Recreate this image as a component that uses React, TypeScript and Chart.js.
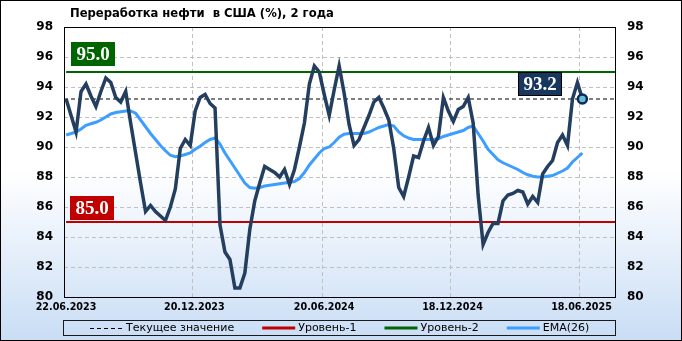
import React, { useEffect, useRef } from "react";
import { Chart, registerables } from "chart.js";

Chart.register(...registerables);

const TITLE = "Переработка нефти  в США (%), 2 года";

// x axis: days since 22.06.2023
const X_TICK_DAYS = [0, 181, 364, 545, 727];
const X_TICK_LABELS = ["22.06.2023", "20.12.2023", "20.06.2024", "18.12.2024", "18.06.2025"];
const X_AXIS_MAX_DAYS = 777;
const FIRST_POINT_DAY = 3;
const WEEK_DAYS = 7;

const Y_MIN = 80;
const Y_MAX = 98;
const Y_STEP = 2;

const REFINERY_UTIL = [
  93.2, 92.1, 91.0, 93.7, 94.2, 93.4, 92.7, 93.7, 94.6, 94.3,
  93.3, 93.0, 93.7, 91.6, 89.6, 87.6, 85.7, 86.1, 85.7, 85.4,
  85.1, 86.0, 87.2, 89.9, 90.5, 90.1, 92.4, 93.3, 93.5, 92.9,
  92.6, 84.8, 83.0, 82.5, 80.6, 80.6, 81.6, 84.5, 86.4, 87.6,
  88.7, 88.5, 88.3, 88.0, 88.5, 87.5, 88.5, 90.0, 91.6, 94.2,
  95.4, 95.0, 93.5, 92.1, 93.8, 95.4, 93.6, 91.5, 90.1, 90.5,
  91.3, 92.1, 93.0, 93.3, 92.6, 91.8, 89.9, 87.3, 86.7, 88.0,
  89.4, 89.3, 90.4, 91.3, 90.1, 90.7, 93.3, 92.4, 91.7, 92.5,
  92.7, 93.3, 91.6, 86.8, 83.5, 84.3, 84.9, 84.9, 86.4, 86.8,
  86.9, 87.1, 87.0, 86.2, 86.7, 86.3, 88.2, 88.7, 89.1, 90.3,
  90.8, 90.1, 93.2, 94.3, 93.2,
];

const EMA_26 = [
  90.8, 90.9, 91.0, 91.2, 91.45, 91.55, 91.65, 91.8, 92.0, 92.2,
  92.3, 92.35, 92.4, 92.4, 92.25, 91.8, 91.35, 90.9, 90.5, 90.1,
  89.75, 89.45, 89.35, 89.4, 89.5, 89.6, 89.85, 90.05, 90.3, 90.5,
  90.6, 90.2, 89.6, 89.1, 88.6, 88.1, 87.6, 87.3, 87.25, 87.3,
  87.4, 87.45, 87.5, 87.55, 87.6, 87.65, 87.7, 87.9, 88.3, 88.8,
  89.2, 89.6, 89.9, 90.0, 90.3, 90.65, 90.85, 90.9, 90.9, 90.9,
  90.9, 91.0, 91.15, 91.3, 91.4, 91.5, 91.4, 91.0, 90.75, 90.6,
  90.5, 90.5, 90.5, 90.5, 90.5, 90.55, 90.7, 90.8, 90.9, 91.0,
  91.1, 91.3, 91.4, 90.9, 90.4, 89.85, 89.5, 89.15, 88.95, 88.8,
  88.65, 88.5, 88.3, 88.15, 88.05, 88.0, 88.0, 88.05, 88.1, 88.25,
  88.4, 88.6, 89.0, 89.3, 89.6,
];

const LEVEL_1 = 85.0;
const LEVEL_2 = 95.0;
const CURRENT = REFINERY_UTIL[REFINERY_UTIL.length - 1];

const LEGEND_LABELS = ["Текущее значение", "Уровень-1", "Уровень-2", "EMA(26)"];

const C_MAIN = "#243e5f";
const C_EMA = "#3d9eff";
const C_L1 = "#c00000";
const C_L2 = "#006400";
const C_CUR = "#000000";
const C_TAG_CUR = "#17375e";
const FONT = '"DejaVu Sans", Verdana, sans-serif';
const SERIF = '"Liberation Serif", "Times New Roman", serif';

function drawTag(ctx: CanvasRenderingContext2D, text: string, cx: number, cy: number, fill: string, stroke?: string) {
  const w = 44;
  const h = 24;
  const x = Math.round(cx - w / 2);
  const y = Math.round(cy - h / 2);
  ctx.save();
  ctx.fillStyle = fill;
  ctx.fillRect(x, y, w, h);
  if (stroke) {
    ctx.strokeStyle = stroke;
    ctx.lineWidth = 1;
    ctx.strokeRect(x + 0.5, y + 0.5, w - 1, h - 1);
  }
  ctx.fillStyle = "#ffffff";
  ctx.font = `bold 19px ${SERIF}`;
  ctx.textAlign = "center";
  ctx.textBaseline = "middle";
  ctx.fillText(text, x + w / 2, y + h / 2 + 1);
  ctx.restore();
}

const bgPlugin = {
  id: "bgGradient",
  beforeDraw(chart: any) {
    const { ctx, width, height } = chart;
    const g = ctx.createLinearGradient(0, 0, 0, height);
    g.addColorStop(0, "#ffffff");
    g.addColorStop(0.5, "#ffffff");
    g.addColorStop(1, "#c9ddf5");
    ctx.save();
    ctx.fillStyle = g;
    ctx.fillRect(0, 0, width, height);
    ctx.restore();
  },
  beforeDatasetsDraw(chart: any) {
    const { ctx, chartArea } = chart;
    ctx.save();
    ctx.strokeStyle = "#000000";
    ctx.lineWidth = 1;
    ctx.strokeRect(
      chartArea.left + 0.5,
      chartArea.top + 0.5,
      chartArea.right - chartArea.left,
      chartArea.bottom - chartArea.top
    );
    ctx.restore();
  },
};

const overlayPlugin = {
  id: "overlay",
  afterDraw(chart: any) {
    const { ctx, chartArea, width, height } = chart;
    const xs = chart.scales.x;
    const ys = chart.scales.y;

    // title
    ctx.save();
    ctx.fillStyle = "#000";
    ctx.font = `bold 11.6px ${FONT}`;
    ctx.textAlign = "left";
    ctx.textBaseline = "middle";
    ctx.fillText(TITLE, 70, 14);
    ctx.restore();

    // level tags
    drawTag(ctx, LEVEL_2.toFixed(1), chartArea.left + 29, ys.getPixelForValue(LEVEL_2) - 18, C_L2);
    drawTag(ctx, LEVEL_1.toFixed(1), chartArea.left + 28, ys.getPixelForValue(LEVEL_1) - 14.5, C_L1);
    const lastX = xs.getPixelForValue(FIRST_POINT_DAY + WEEK_DAYS * (REFINERY_UTIL.length - 1));
    drawTag(ctx, CURRENT.toFixed(1), lastX - 42, ys.getPixelForValue(CURRENT) - 15, C_TAG_CUR, "#000000");

    // legend
    ctx.save();
    ctx.strokeStyle = "#1a1a1a";
    ctx.lineWidth = 1;
    ctx.strokeRect(63.5, 320.5, 552, 15);
    const ly = 328;
    ctx.font = `11px ${FONT}`;
    ctx.textBaseline = "middle";
    ctx.textAlign = "left";
    const items = [
      { label: LEGEND_LABELS[0], color: C_CUR, width: 1, dash: [4, 3] },
      { label: LEGEND_LABELS[1], color: C_L1, width: 3, dash: [] },
      { label: LEGEND_LABELS[2], color: C_L2, width: 3, dash: [] },
      { label: LEGEND_LABELS[3], color: C_EMA, width: 3, dash: [] },
    ];
    let x = 90;
    items.forEach((it) => {
      ctx.beginPath();
      ctx.strokeStyle = it.color;
      ctx.lineWidth = it.width;
      ctx.setLineDash(it.dash);
      const yy = it.width === 1 ? ly + 0.5 : ly;
      ctx.moveTo(x, yy);
      ctx.lineTo(x + 33, yy);
      ctx.stroke();
      ctx.setLineDash([]);
      ctx.fillStyle = "#000";
      const tx = x + 36;
      ctx.fillText(it.label, tx, ly);
      x = tx + ctx.measureText(it.label).width + 28;
    });
    ctx.restore();

    // outer border
    ctx.save();
    ctx.strokeStyle = "#000";
    ctx.lineWidth = 1;
    ctx.strokeRect(0.5, 0.5, width - 1, height - 1);
    ctx.restore();
  },
};

export default function App() {
  const ref = useRef<HTMLCanvasElement | null>(null);

  useEffect(() => {
    if (!ref.current) return;
    const mainPts = REFINERY_UTIL.map((v, i) => ({ x: FIRST_POINT_DAY + WEEK_DAYS * i, y: v }));
    const emaPts = EMA_26.map((v, i) => ({ x: FIRST_POINT_DAY + WEEK_DAYS * i, y: v }));
    const lastIdx = REFINERY_UTIL.length - 1;

    const tickFont = { family: FONT, size: 12, weight: "bold" as const };

    const chart = new Chart(ref.current, {
      type: "line",
      data: {
        datasets: [
          {
            label: "Переработка",
            data: mainPts,
            borderColor: C_MAIN,
            borderWidth: 3.5,
            tension: 0,
            pointRadius: (c: any) => (c.dataIndex === lastIdx ? 4.5 : 0),
            pointBackgroundColor: "#68bfd6",
            pointBorderColor: "#0b2a5a",
            pointBorderWidth: 2.5,
            order: 0,
          },
          {
            label: LEGEND_LABELS[3],
            data: emaPts,
            borderColor: C_EMA,
            borderWidth: 3,
            tension: 0,
            pointRadius: 0,
            order: 1,
          },
          {
            label: LEGEND_LABELS[2],
            data: [
              { x: FIRST_POINT_DAY, y: LEVEL_2 },
              { x: X_AXIS_MAX_DAYS, y: LEVEL_2 },
            ],
            borderColor: C_L2,
            borderWidth: 2,
            pointRadius: 0,
            order: 2,
          },
          {
            label: LEGEND_LABELS[1],
            data: [
              { x: FIRST_POINT_DAY, y: LEVEL_1 },
              { x: X_AXIS_MAX_DAYS, y: LEVEL_1 },
            ],
            borderColor: C_L1,
            borderWidth: 2,
            pointRadius: 0,
            order: 3,
          },
          {
            label: LEGEND_LABELS[0],
            data: [
              { x: 0, y: CURRENT },
              { x: X_AXIS_MAX_DAYS, y: CURRENT },
            ],
            borderColor: C_CUR,
            borderWidth: 1,
            borderDash: [4, 3],
            pointRadius: 0,
            order: 4,
          },
        ],
      },
      options: {
        responsive: false,
        animation: false,
        layout: { padding: { top: 27, left: 0, right: 0, bottom: 0 } },
        plugins: {
          legend: { display: false },
          tooltip: { enabled: false },
          title: { display: false },
        },
        scales: {
          x: {
            type: "linear",
            min: 0,
            max: X_AXIS_MAX_DAYS,
            afterBuildTicks: (s: any) => {
              s.ticks = X_TICK_DAYS.map((v) => ({ value: v }));
            },
            afterFit: (s: any) => {
              s.height = 44;
            },
            ticks: {
              autoSkip: false,
              maxRotation: 0,
              padding: 5,
              labelOffset: 2,
              color: "#000",
              font: { family: FONT, size: 9.6, weight: "bold" },
              callback: (v: any) => {
                const i = X_TICK_DAYS.indexOf(Number(v));
                return i >= 0 ? X_TICK_LABELS[i] : "";
              },
            },
            grid: { color: "#c0c0c0", lineWidth: 1, drawTicks: false },
            border: { display: false, dash: [4, 3] },
          },
          y: {
            position: "left",
            min: Y_MIN,
            max: Y_MAX,
            afterFit: (s: any) => {
              s.width = 64;
            },
            ticks: { stepSize: Y_STEP, padding: 11, color: "#000", font: tickFont },
            grid: { color: "#c0c0c0", lineWidth: 1, drawTicks: false },
            border: { display: false, dash: [4, 3] },
          },
          y2: {
            position: "right",
            min: Y_MIN,
            max: Y_MAX,
            afterFit: (s: any) => {
              s.width = 67;
            },
            ticks: { stepSize: Y_STEP, padding: 12, color: "#000", font: tickFont },
            grid: { display: false, drawTicks: false },
            border: { display: false },
          },
        },
      } as any,
      plugins: [bgPlugin, overlayPlugin],
    });
    return () => chart.destroy();
  }, []);

  return (
    <div style={{ position: "absolute", left: 0, top: 0, width: 682, height: 341 }}>
      <canvas ref={ref} width={682} height={341} style={{ display: "block", width: 682, height: 341 }} />
    </div>
  );
}
